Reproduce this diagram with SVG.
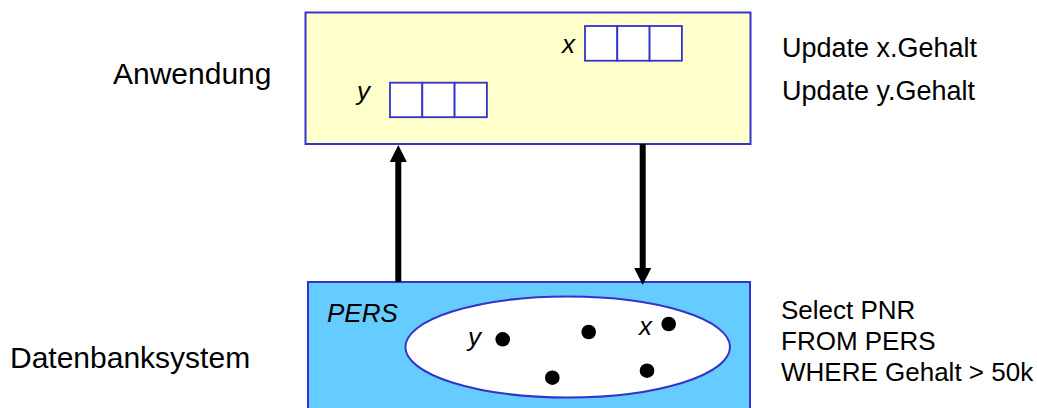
<svg xmlns="http://www.w3.org/2000/svg" width="1037" height="408" viewBox="0 0 1037 408">
<style>
text{font-family:"Liberation Sans",Arial,sans-serif;font-size:26px;fill:#000}
.big{font-size:30px}
.upd{font-size:27px}
.it{font-style:italic}
.box{stroke:#3333CC;stroke-width:2}
.cell{fill:#fff;stroke:#3333CC;stroke-width:1.8}
.conn{stroke:#000;stroke-width:6;fill:none}
</style>
<defs>
<marker id="ah" viewBox="0 0 17 17" refX="0" refY="8.5" markerWidth="17" markerHeight="17" markerUnits="userSpaceOnUse" orient="auto">
<path d="M0,0 L17,8.5 L0,17 Z" fill="#000"/>
</marker>
</defs>
<rect width="1037" height="408" fill="#fff"/>
<g id="anwendung">
<rect class="box" x="305.5" y="12.5" width="445" height="131.5" fill="#FFFFCC"/>
<text x="562" y="53" class="it">x</text>
<rect class="cell" x="585" y="26" width="32.3" height="34.7"/>
<rect class="cell" x="617.3" y="26" width="32.3" height="34.7"/>
<rect class="cell" x="649.6" y="26" width="32.3" height="34.7"/>
<text x="357" y="100" class="it">y</text>
<rect class="cell" x="390" y="82.7" width="32.3" height="34.5"/>
<rect class="cell" x="422.3" y="82.7" width="32.3" height="34.5"/>
<rect class="cell" x="454.6" y="82.7" width="32.3" height="34.5"/>
</g>
<g id="label-anwendung"><text x="113" y="84" class="big">Anwendung</text></g>
<g id="label-update">
<text x="782" y="57" class="upd">Update x.Gehalt</text>
<text x="782" y="100" class="upd">Update y.Gehalt</text>
</g>
<g id="datenbank">
<rect class="box" x="308" y="282" width="442" height="130" fill="#66CCFF"/>
<text x="327" y="322" class="it">PERS</text>
<ellipse cx="567.7" cy="347" rx="162.3" ry="50.5" fill="#fff" stroke="#3333CC" stroke-width="2"/>
<circle cx="502.7" cy="339.3" r="7.3"/>
<circle cx="588.7" cy="332" r="7.3"/>
<circle cx="668.7" cy="324" r="7.3"/>
<circle cx="552.3" cy="377.7" r="7.3"/>
<circle cx="647" cy="370.7" r="7.3"/>
<text x="468" y="346" class="it">y</text>
<text x="639" y="335" class="it">x</text>
</g>
<g id="label-datenbank"><text x="10" y="368" class="big">Datenbanksystem</text></g>
<g id="label-select">
<text x="781" y="319">Select PNR</text>
<text x="781" y="350">FROM PERS</text>
<text x="781" y="381">WHERE Gehalt &gt; 50k</text>
</g>
<g id="connectors">
<line class="conn" x1="398.3" y1="282" x2="398.3" y2="162" marker-end="url(#ah)"/>
<line class="conn" x1="642.7" y1="144" x2="642.7" y2="268" marker-end="url(#ah)"/>
</g>
</svg>
